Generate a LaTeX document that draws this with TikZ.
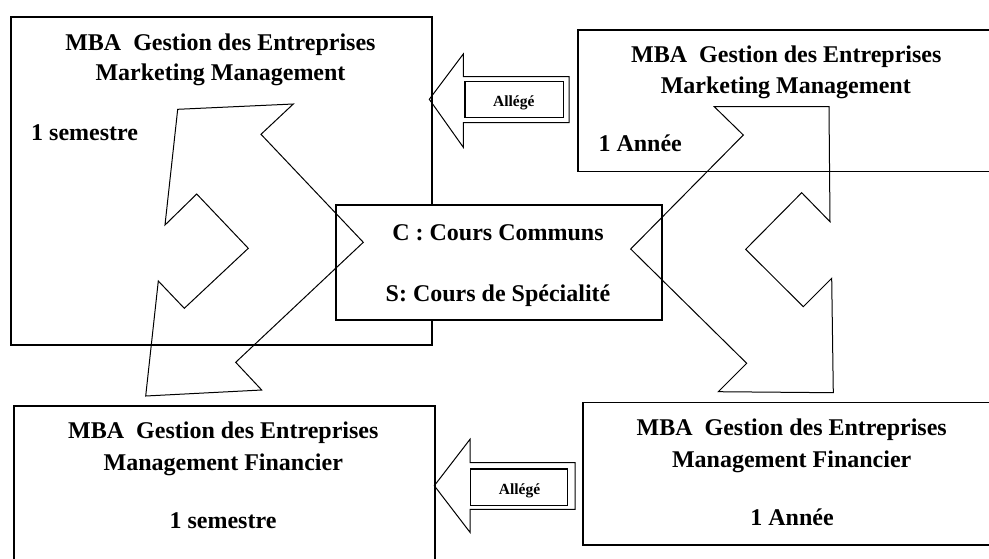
\documentclass[tikz,border=0pt]{standalone}
\usepackage{fontspec}
\setmainfont{Liberation Serif}
\begin{document}
\begin{tikzpicture}[x=1pt,y=-1pt,
  boxnode/.style={draw, line width=1.5pt, fill=white, inner sep=0pt, anchor=north west},
  txt/.style={inner sep=0pt, anchor=base, font=\fontsize{24}{29}\selectfont\bfseries},
  txtl/.style={txt, anchor=base west},
  small/.style={inner sep=0pt, anchor=base, font=\fontsize{15.5}{18}\selectfont\bfseries},
  outline/.style={draw, line width=1pt, line join=miter},
  inbox/.style={draw, line width=1.5pt}]
\useasboundingbox (0,0) rectangle (989,558);
\clip (0,0) rectangle (989,558);
% boxes
\node[boxnode, minimum width=421pt, minimum height=328pt] (tl) at (10,16) {};
\node[boxnode, minimum width=430pt, minimum height=141.5pt] (tr) at (577,29.3) {};
\node[boxnode, minimum width=421pt, minimum height=170pt] (bl) at (13,405) {};
\node[boxnode, minimum width=430pt, minimum height=142.3pt] (br) at (582,401.7) {};
\node[boxnode, minimum width=326pt, minimum height=115pt] (cc) at (335,204) {};
% texts
\node[txt] (tl1) at (220.4,50.7) {MBA\ \ Gestion des Entreprises};
\node[txt] (tl2) at (220.5,80.8) {Marketing Management};
\node[txtl] (tl3) at (31,140.7) {1 semestre};
\node[txt] (tr1) at (786.3,62.7) {MBA\ \ Gestion des Entreprises};
\node[txt] (tr2) at (785.8,93.3) {Marketing Management};
\node[txtl] (tr3) at (598.3,151.7) {1 Année};
\node[txt] (bl1) at (223.3,438.3) {MBA\ \ Gestion des Entreprises};
\node[txt] (bl2) at (223.3,470) {Management Financier};
\node[txt] (bl3) at (223,528.3) {1 semestre};
\node[txt] (br1) at (791.7,435) {MBA\ \ Gestion des Entreprises};
\node[txt] (br2) at (791.7,467.3) {Management Financier};
\node[txt] (br3) at (792,525) {1 Année};
\node[txt] (cc1) at (498,240) {C : Cours Communs};
\node[txt] (cc2) at (498,301) {S: Cours de Spécialité};
% left bent arrow
\coordinate (p1) at (177.7,109.3);
\coordinate (p2) at (293.3,104);
\coordinate (p3) at (261,134.3);
\coordinate (p4) at (363.3,242.3);
\coordinate (p5) at (235.7,362.3);
\coordinate (p6) at (261.7,390);
\coordinate (p7) at (145.7,396);
\coordinate (p8) at (158.3,281);
\coordinate (p9) at (184.3,308.3);
\coordinate (p10) at (248.3,248.3);
\coordinate (p11) at (196.7,194);
\coordinate (p12) at (165,225);
\draw[outline] (p1) -- (p2) -- (p3) -- (p4) -- (p5) -- (p6) -- (p7) -- (p8) -- (p9) -- (p10) -- (p11) -- (p12) -- cycle;
% right bent arrow
\coordinate (q1) at (714.3,106.7);
\coordinate (q2) at (829,106.7);
\coordinate (q3) at (830,221.7);
\coordinate (q4) at (801.7,192.7);
\coordinate (q5) at (745.7,249.3);
\coordinate (q6) at (803.3,306.7);
\coordinate (q7) at (831.7,278.3);
\coordinate (q8) at (833.3,392.7);
\coordinate (q9) at (718.3,391.7);
\coordinate (q10) at (746.7,363.3);
\coordinate (q11) at (630.7,249);
\coordinate (q12) at (743.3,135);
\draw[outline] (q1) -- (q2) -- (q3) -- (q4) -- (q5) -- (q6) -- (q7) -- (q8) -- (q9) -- (q10) -- (q11) -- (q12) -- cycle;
% Allégé arrows
\coordinate (a1) at (429.3,99.3);
\coordinate (a2) at (463.3,54);
\coordinate (a3) at (463.3,76.7);
\coordinate (a4) at (569,76.7);
\coordinate (a5) at (569,122.7);
\coordinate (a6) at (463.3,122.7);
\coordinate (a7) at (463.3,147.3);
\draw[outline] (a1) -- (a2) -- (a3) -- (a4) -- (a5) -- (a6) -- (a7) -- cycle;
\draw[inbox] (465,81.7) rectangle (563.3,117.3);
\node[small] (al1) at (513.8,106) {Allégé};
\coordinate (b1) at (434.3,485.7);
\coordinate (b2) at (470,439.3);
\coordinate (b3) at (470,462.7);
\coordinate (b4) at (575,462.7);
\coordinate (b5) at (575,509.3);
\coordinate (b6) at (470,509.3);
\coordinate (b7) at (470,532.3);
\draw[outline] (b1) -- (b2) -- (b3) -- (b4) -- (b5) -- (b6) -- (b7) -- cycle;
\draw[inbox] (470.7,469) rectangle (567.3,505.7);
\node[small] (al2) at (519.5,494) {Allégé};
\end{tikzpicture}
\end{document}
